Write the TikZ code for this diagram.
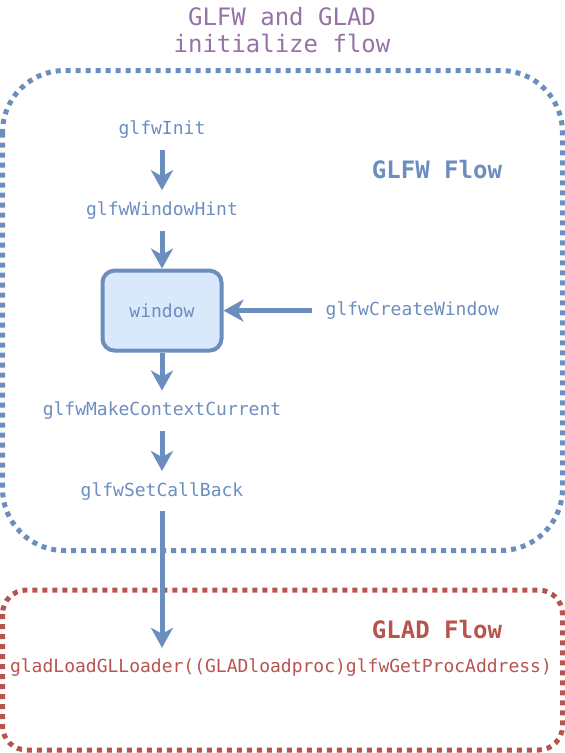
\documentclass[tikz,border=0pt]{standalone}
\usepackage{fontspec}
\setmonofont{DejaVu Sans Mono}
\usepackage{tikz}
\usetikzlibrary{
    positioning,
    arrows.meta
}
\definecolor{flowBlue}{RGB}{108, 142, 191}
\definecolor{flowFill}{RGB}{218, 232, 252}
\definecolor{flowRed}{RGB}{184, 84, 80}
\definecolor{flowPurple}{RGB}{150, 115, 166}

\begin{document}
\begin{tikzpicture}[x=1pt, y=-1pt, >={Stealth[length=20pt, width=22pt, inset=6pt]},
        call/.style={font=\ttfamily\fontsize{18}{20}\selectfont, text=flowBlue, minimum height=40pt, inner sep=0pt},
        heading/.style={font=\ttfamily\bfseries\fontsize{24}{27}\selectfont},
        flowarrow/.style={->, line width=5pt, flowBlue},
        region/.style={line width=5pt, dash pattern=on 5pt off 5pt}]
                \useasboundingbox (0,0) rectangle (565,753);
                
                % the two regions
                \draw[region, flowBlue, rounded corners=62pt] (2.5,70.5) rectangle (562.5,550.5);
                \draw[region, flowRed, rounded corners=24pt] (2.5,590) rectangle (562.5,750);
                
                \node[font=\ttfamily\fontsize{24}{27}\selectfont, text=flowPurple, align=center] (title) at (282,30) {GLFW and GLAD\\initialize flow};
                \node[heading, text=flowBlue] (glfwflow) at (437,170) {GLFW Flow};
                \node[heading, text=flowRed] (gladflow) at (437,630) {GLAD Flow};
                
                % glfw calls
                \node[call] (init) at (162,130) {glfwInit};
                \node[call, below=40pt of init] (hint) {glfwWindowHint};
                \node[call, below=38pt of hint, draw=flowBlue, fill=flowFill, line width=4pt,
                      rounded corners=12pt, minimum width=119pt, minimum height=80pt] (window) {window};
                \node[call, right=88pt of window, inner xsep=14pt] (create) {glfwCreateWindow};
                \node[call, below=38pt of window] (context) {glfwMakeContextCurrent};
                \node[call, below=40pt of context] (callback) {glfwSetCallBack};
                
                \node[call, text=flowRed] (loader) at (281,668) {gladLoadGLLoader((GLADloadproc)glfwGetProcAddress)};
                
                \draw[flowarrow] (init) -- (hint);
                \draw[flowarrow] (hint) -- (window);
                \draw[flowarrow] (create) -- (window);
                \draw[flowarrow] (window) -- (context);
                \draw[flowarrow] (context) -- (callback);
                \draw[flowarrow] (callback.south) -- (callback.south |- loader.north);
            \end{tikzpicture}
\end{document}
